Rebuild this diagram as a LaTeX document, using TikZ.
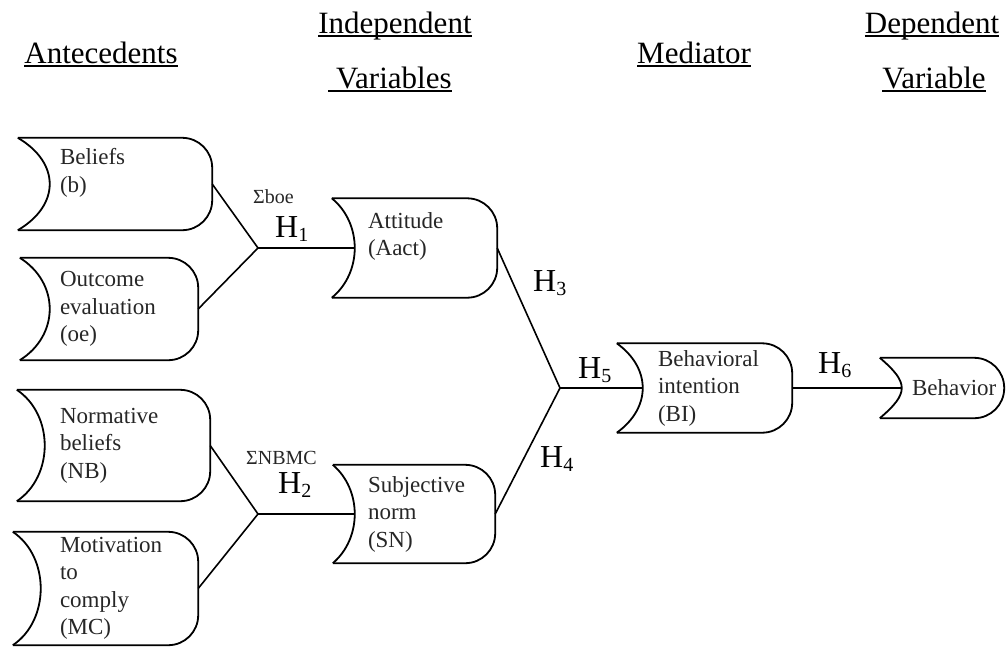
\documentclass[tikz,border=0pt]{standalone}
\usepackage{fontspec}
\setmainfont{Liberation Serif}
\newcommand{\headrule}[1]{\setbox0\hbox{#1}\rlap{\rule[-4.2pt]{\wd0}{2.2pt}}\box0}
\newcommand{\hyp}[1]{H\raisebox{-4pt}{\fontsize{20}{20}\selectfont #1}}

\tikzset{
  construct/.style={inner ysep=0pt, align=left, font=\fontsize{23}{27.5}\selectfont, text=black!85},
  heading/.style={anchor=base, inner sep=0pt, font=\fontsize{31}{37}\selectfont},
  hlabel/.style={anchor=base west, inner sep=0pt, font=\fontsize{32}{38}\selectfont},
  sumlabel/.style={anchor=base west, inner sep=0pt, font=\fontsize{20}{24}\selectfont, text=black!85},
  link/.style={line width=1.6pt},
  outline/.style={line width=1.8pt}
}

\begin{document}
\begin{tikzpicture}[x=1pt,y=-1pt]
\useasboundingbox (0,0) rectangle (1006,649);

% headings
\node[heading] (ante) at (101,63) {\headrule{Antecedents}};
\node[heading] (indep) at (395,33) {\headrule{Independent}};
\node[heading] (vars) at (390,88) {\headrule{\ Variables}};
\node[heading] (medi) at (694,63) {\headrule{Mediator}};
\node[heading] (dep) at (932,33) {\headrule{Dependent}};
\node[heading] (var) at (934,88) {\headrule{Variable}};

% constructs
\node (b) at (115,184)[construct, minimum width=194pt, minimum height=92pt, inner xsep=42pt, text width=110pt] {Beliefs\\(b)\\\mbox{}};
\node (oe) at (109,309)[construct, minimum width=178pt, minimum height=102pt, inner xsep=40pt, text width=98pt] {Outcome\\evaluation\\(oe)};
\node (NB) at (113.5,445.5)[construct, minimum width=193pt, minimum height=111pt, inner xsep=43pt, text width=107pt] {Normative\\beliefs\\(NB)};
\node (MC) at (105.5,588.5)[construct, minimum width=185pt, minimum height=113pt, inner xsep=47pt, text width=91pt] {Motivation\\to\\comply\\(MC)};
\node (Aact) at (414.5,248)[construct, minimum width=165pt, minimum height=99pt, inner xsep=36pt, text width=93pt] {Attitude\\(Aact)\\\mbox{}};
\node (SN) at (414,514)[construct, minimum width=162pt, minimum height=98pt, inner xsep=35pt, text width=92pt] {Subjective\\norm\\(SN)};
\node (BI) at (704.5,388)[construct, minimum width=175pt, minimum height=89pt, inner xsep=41pt, text width=93pt] {Behavioral\\intention\\(BI)};
\node (Beh) at (942,388)[construct, minimum width=124pt, minimum height=60pt, inner xsep=32pt, text width=60pt] {Behavior};

\foreach \n/\d in {b/32,oe/30,NB/28,MC/28,Aact/23,SN/22,BI/26,Beh/22}{
  \draw[outline, rounded corners=30pt] (\n.north west) -- (\n.north east) -- (\n.south east) -- (\n.south west);
  \draw[outline] (\n.south west) .. controls ([xshift={1.33*\d*1pt}, yshift=25pt]\n.south west) and ([xshift={1.33*\d*1pt}, yshift=-25pt]\n.north west) .. (\n.north west);
}

% junctions
\coordinate (j1) at (258,248);
\coordinate (j2) at (258,514);
\coordinate (j3) at (560,388);

\draw[link] (b.east) -- (j1);
\draw[link] (oe.east) -- (j1);
\draw[link] (j1) -- ([xshift=23pt]Aact.west);
\draw[link] (NB.east) -- (j2);
\draw[link] (MC.east) -- (j2);
\draw[link] (j2) -- ([xshift=22pt]SN.west);
\draw[link] (Aact.east) -- (j3);
\draw[link] (SN.east) -- (j3);
\draw[link] (j3) -- ([xshift=26pt]BI.west);
\draw[link] (BI.east) -- ([xshift=22pt]Beh.west);

% labels
\node[sumlabel] (sboe) at (253,203) {Σboe};
\node[hlabel] (h1) at (275,237) {\hyp{1}};
\node[sumlabel] (snbmc) at (246,464) {ΣNBMC};
\node[hlabel] (h2) at (278,493) {\hyp{2}};
\node[hlabel] (h3) at (533,291) {\hyp{3}};
\node[hlabel] (h4) at (540,467) {\hyp{4}};
\node[hlabel] (h5) at (578,378) {\hyp{5}};
\node[hlabel] (h6) at (818,373) {\hyp{6}};
\end{tikzpicture}
\end{document}
